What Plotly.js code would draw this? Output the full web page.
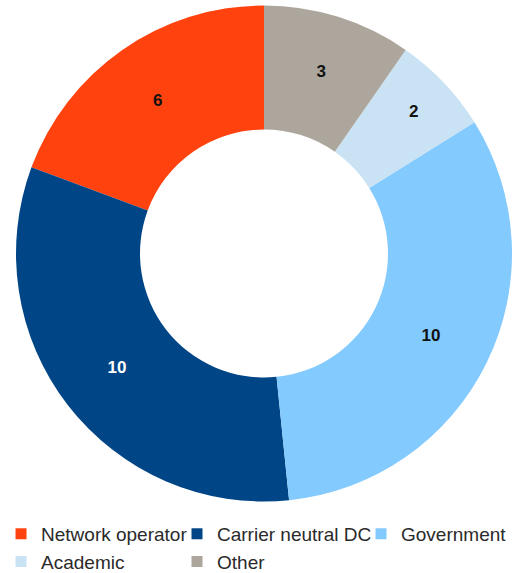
<!DOCTYPE html>
<html>
<head>
<meta charset="utf-8">
<script src="https://cdn.plot.ly/plotly-3.0.1.min.js"></script>
<style>html,body{margin:0;padding:0;background:#fff;}#chart{width:520px;height:573px;}</style>
</head>
<body>
<div id="chart"></div>
<script>
var categories = ["Network operator", "Carrier neutral DC", "Government", "Academic", "Other"];
var counts = [6, 10, 10, 2, 3];
var sliceColors = ["#FF420E", "#004586", "#83CAFF", "#C9E2F4", "#ADA69D"];
var labelColors = ["#111111", "#FFFFFF", "#111111", "#111111", "#111111"];
// which legend column each category sits in (reference legend is a 3-column grid)
var legendColumn = ["legend", "legend2", "legend3", "legend", "legend2"];

var total = counts.reduce(function (a, b) { return a + b; }, 0);

var pie = {
  type: "pie",
  labels: categories,
  values: counts,
  sort: false,
  direction: "counterclockwise",
  // first slice begins at 12 o'clock and runs counterclockwise
  rotation: -counts[0] / total * 360,
  hole: 0.5,
  marker: {colors: sliceColors, line: {width: 0}},
  textinfo: "value",
  textposition: "inside",
  insidetextorientation: "horizontal",
  textfont: {family: "Liberation Sans, Arial, sans-serif", size: 17, color: labelColors, weight: "bold"},
  hoverinfo: "label+value",
  showlegend: false
};

var traces = [pie];
categories.forEach(function (name, i) {
  traces.push({
    type: "scatter",
    mode: "markers",
    x: [null],
    y: [null],
    name: name,
    legend: legendColumn[i],
    showlegend: true,
    marker: {symbol: "square", size: 11, color: sliceColors[i]},
    hoverinfo: "skip"
  });
});

var legendFont = {family: "Liberation Sans, Arial, sans-serif", size: 19, color: "#2a2a2a"};
var legendBase = {
  orientation: "v",
  xanchor: "left",
  yanchor: "top",
  y: -0.026,
  font: legendFont,
  bgcolor: "rgba(0,0,0,0)",
  borderwidth: 0,
  tracegroupgap: 0
};

var layout = {
  width: 520,
  height: 573,
  margin: {l: 16, r: 8, t: 5, b: 71, autoexpand: false},
  paper_bgcolor: "#FFFFFF",
  plot_bgcolor: "rgba(0,0,0,0)",
  showlegend: true,
  xaxis: {visible: false, showgrid: false, zeroline: false},
  yaxis: {visible: false, showgrid: false, zeroline: false},
  legend: Object.assign({}, legendBase, {x: -0.0302}),
  legend2: Object.assign({}, legendBase, {x: 0.3246}),
  legend3: Object.assign({}, legendBase, {x: 0.6956})
};

Plotly.newPlot("chart", traces, layout, {displayModeBar: false, staticPlot: true});
</script>
</body>
</html>
